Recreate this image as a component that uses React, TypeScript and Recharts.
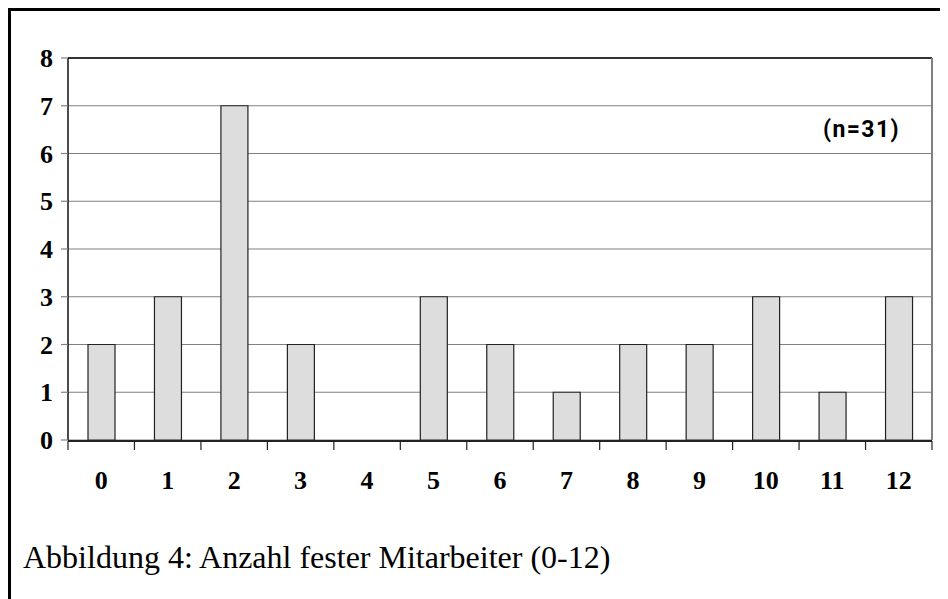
import React from 'react';
import { BarChart, Bar, XAxis, YAxis, CartesianGrid } from 'recharts';

const categories = ['0', '1', '2', '3', '4', '5', '6', '7', '8', '9', '10', '11', '12'];
const counts = [2, 3, 7, 2, 0, 3, 2, 1, 2, 2, 3, 1, 3];
const yTicks = [0, 1, 2, 3, 4, 5, 6, 7, 8];
const sampleNote = '(n=31)';
const caption = 'Abbildung 4: Anzahl fester Mitarbeiter (0-12)';

const data = categories.map((c, i) => ({ cat: c, idx: i, value: counts[i] }));
const boundaryTicks = [...categories.map((_, i) => i - 0.5), categories.length - 0.5];

const serif = '"Liberation Serif", "Times New Roman", serif';

const NoLabel = () => <g />;

export default function App() {
  return (
    <div style={{ position: 'relative', width: 940, height: 591 }}>
      <div style={{ position: 'absolute', left: 0, top: 0, width: 940, height: 3, background: '#000' }} />
      <div style={{ position: 'absolute', left: 0, top: 0, width: 3, height: 591, background: '#000' }} />
      <div style={{ position: 'absolute', left: 0, top: 0 }}>
        <BarChart
          width={940}
          height={520}
          data={data}
          margin={{ top: 49, right: 15, left: 0, bottom: 86 }}
        >
          <CartesianGrid xAxisId="cat" yAxisId="left" vertical={false} stroke="#808080" strokeWidth={1.2} />
          <XAxis
            xAxisId="cat"
            dataKey="cat"
            type="category"
            height={1}
            axisLine={false}
            tickLine={false}
            tickSize={0}
            tickMargin={31}
            interval={0}
            tick={{ fontSize: 26, fontWeight: 'bold', fontFamily: serif, fill: '#000' }}
          />
          <XAxis
            xAxisId="edge"
            type="number"
            dataKey="idx"
            domain={[-0.5, categories.length - 0.5]}
            ticks={boundaryTicks}
            interval={0}
            height={1}
            tick={NoLabel}
            tickSize={9}
            tickLine={{ stroke: '#222', strokeWidth: 1.2 }}
            axisLine={{ stroke: '#222', strokeWidth: 2 }}
          />
          <XAxis
            xAxisId="top"
            orientation="top"
            type="number"
            dataKey="idx"
            domain={[-0.5, categories.length - 0.5]}
            height={1}
            tick={false}
            tickLine={false}
            axisLine={{ stroke: '#333', strokeWidth: 2 }}
          />
          <YAxis
            yAxisId="left"
            domain={[0, 8]}
            ticks={yTicks}
            interval={0}
            width={60}
            tickSize={7}
            tickMargin={8}
            axisLine={{ stroke: '#111', strokeWidth: 1.5 }}
            tickLine={{ stroke: '#808080', strokeWidth: 1.2 }}
            tick={{ fontSize: 26, fontWeight: 'bold', fontFamily: serif, fill: '#000' }}
          />
          <YAxis
            yAxisId="right"
            orientation="right"
            domain={[0, 8]}
            width={1}
            tick={false}
            tickLine={false}
            axisLine={{ stroke: '#808080', strokeWidth: 2 }}
          />
          <Bar
            xAxisId="cat"
            yAxisId="left"
            dataKey="value"
            barSize={27}
            fill="#DDDDDD"
            stroke="#222"
            strokeWidth={1.2}
            isAnimationActive={false}
          />
        </BarChart>
      </div>
      <div
        style={{
          position: 'absolute',
          left: 815,
          top: 108,
          fontFamily: 'Roboto, "Liberation Sans", Arial, sans-serif',
          fontWeight: 'bold',
          fontSize: 23,
          letterSpacing: 1.4,
          color: '#000',
          whiteSpace: 'nowrap',
        }}
      >
        {sampleNote}
      </div>
      <div
        style={{
          position: 'absolute',
          left: 15,
          top: 531,
          fontFamily: serif,
          fontSize: 32,
          color: '#000',
          whiteSpace: 'nowrap',
        }}
      >
        {caption}
      </div>
    </div>
  );
}
